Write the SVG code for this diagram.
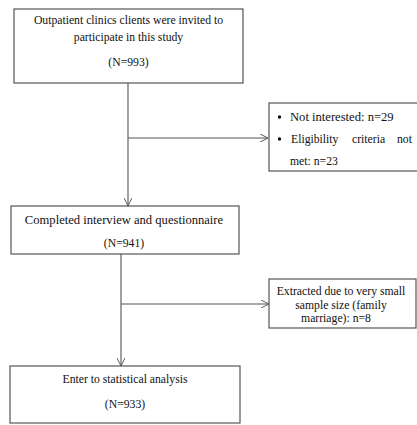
<svg xmlns="http://www.w3.org/2000/svg" width="417" height="425" viewBox="0 0 417 425">
<defs>
<marker id="arr" viewBox="0 0 10 10" refX="10" refY="5" markerWidth="8" markerHeight="8" markerUnits="userSpaceOnUse" orient="auto">
<path d="M0,0 L10,5 L0,10" fill="none" stroke="#555" stroke-width="1.2"/>
</marker>
<style>
.box{fill:#fff;stroke:#555;stroke-width:1.2}
.t{font-family:"Liberation Serif","Times New Roman",serif;fill:#111}
.s{font-size:11.7px}
.m{font-size:12.6px}
.c{text-anchor:middle}
.ln{stroke:#555;stroke-width:1.1;fill:none}
</style>
</defs>
<rect width="417" height="425" fill="#fff"/>
<g id="connectors">
<path class="ln" d="M128,83 L128,206" marker-end="url(#arr)"/>
<path class="ln" d="M128,138 L268,138" marker-end="url(#arr)"/>
<path class="ln" d="M121,254 L121,366" marker-end="url(#arr)"/>
<path class="ln" d="M121,304 L269,304" marker-end="url(#arr)"/>
</g>
<g id="n1">
<rect class="box" x="14" y="9" width="229" height="74"/>
<text class="t s c" x="128.5" y="24">Outpatient clinics clients were invited to</text>
<text class="t s c" x="128.5" y="41">participate in this study</text>
<text class="t s c" x="128.5" y="66">(N=993)</text>
</g>
<g id="n2">
<rect class="box" x="269" y="103" width="160" height="68"/>
<circle cx="279.5" cy="117" r="1.7" fill="#111"/>
<circle cx="279.5" cy="139" r="1.7" fill="#111"/>
<text class="t m" x="290" y="121">Not interested: n=29</text>
<text class="t s" x="291" y="143">Eligibility</text>
<text class="t s" x="352" y="143">criteria</text>
<text class="t s" x="397" y="143">not</text>
<text class="t s" x="290" y="165">met: n=23</text>
</g>
<g id="n3">
<rect class="box" x="11" y="206" width="228" height="48"/>
<text class="t m c" x="124" y="224">Completed interview and questionnaire</text>
<text class="t s c" x="124" y="247">(N=941)</text>
</g>
<g id="n4">
<rect class="box" x="269" y="279" width="147" height="49"/>
<text class="t s c" x="341" y="295">Extracted due to very small</text>
<text class="t s c" x="341" y="309">sample size (family</text>
<text class="t s c" x="336" y="322">marriage): n=8</text>
</g>
<g id="n5">
<rect class="box" x="10" y="366" width="230" height="57"/>
<text class="t s c" x="125" y="383">Enter to statistical analysis</text>
<text class="t s c" x="125" y="408">(N=933)</text>
</g>
</svg>
